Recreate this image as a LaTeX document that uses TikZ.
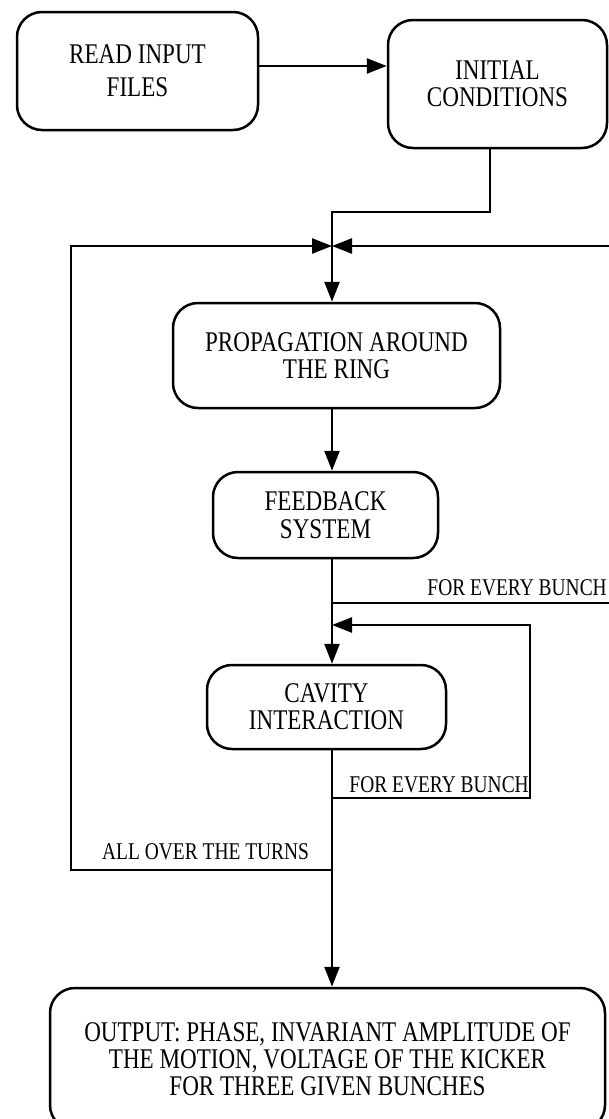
\documentclass[tikz,border=0pt]{standalone}
\usepackage{fontspec}
\setmainfont{Liberation Serif}[FakeStretch=0.81]
\usetikzlibrary{arrows.meta}
\begin{document}
\begin{tikzpicture}[x=1pt,y=-1pt,
  box/.style={draw, line width=2.5pt, rounded corners=25pt, align=center,
    font=\fontsize{28.5}{27}\selectfont, inner sep=0pt},
  conn/.style={line width=2.5pt},
  arr/.style={conn, -{Triangle[length=20pt,width=15pt]}},
  lbl/.style={font=\fontsize{24}{26}\selectfont, inner sep=0pt}]
\useasboundingbox (0,0) rectangle (608,1119);
% boxes
\node[box, minimum width=241pt, minimum height=118pt, font=\fontsize{28.5}{33}\selectfont] (read) at (137.5,71) {READ INPUT\\FILES};
\node[box, minimum width=219pt, minimum height=128pt] (init) at (497.5,84) {INITIAL\\CONDITIONS};
\node[box, minimum width=327pt, minimum height=105pt] (prop) at (336.5,355.5) {PROPAGATION AROUND\\THE RING};
\node[box, minimum width=225pt, minimum height=86pt, font=\fontsize{28.5}{28}\selectfont] (feed) at (325.5,515) {FEEDBACK\\SYSTEM};
\node[box, minimum width=239pt, minimum height=84pt] (cav) at (326.5,707) {CAVITY\\INTERACTION};
\node[box, minimum width=555pt, minimum height=142pt] (out) at (327.5,1059) {OUTPUT: PHASE, INVARIANT AMPLITUDE OF\\THE MOTION, VOLTAGE OF THE KICKER\\FOR THREE GIVEN BUNCHES};
% coordinates
\coordinate (j) at (332,246);
\coordinate (c1) at (332,212);
\coordinate (tl) at (71,246);
\coordinate (tr) at (614,246);
\coordinate (turn) at (332,870);
\coordinate (fb1) at (332,603);
\coordinate (fbr) at (614,603);
\coordinate (fb2) at (332,798);
\coordinate (ir) at (530,625);
\coordinate (il) at (332,625);
% connectors
\draw[arr] ([yshift=5pt]read.east) -- ([yshift=5pt]read.east -| init.west);
\draw[conn] ([xshift=-7.5pt]init.south) |- (c1) -- (j);
\draw[arr] (j) -- (j |- prop.north);
\draw[arr] (turn) -| (tl) -- (j);
\draw[arr] (fb1) -- (fbr) -- (tr) -- (j);
\draw[arr] (j |- prop.south) -- (j |- feed.north);
\draw[arr] (j |- feed.south) -- (j |- cav.north);
\draw[arr] (fb2) -| (ir) -- (il);
\draw[arr] (j |- cav.south) -- (j |- out.north);
% labels
\node[lbl, anchor=base east] (l1) at (607,595) {FOR EVERY BUNCH};
\node[lbl, anchor=base east] (l2) at (529,792) {FOR EVERY BUNCH};
\node[lbl, anchor=base west] (l3) at (102,859) {ALL OVER THE TURNS};
\end{tikzpicture}
\end{document}
